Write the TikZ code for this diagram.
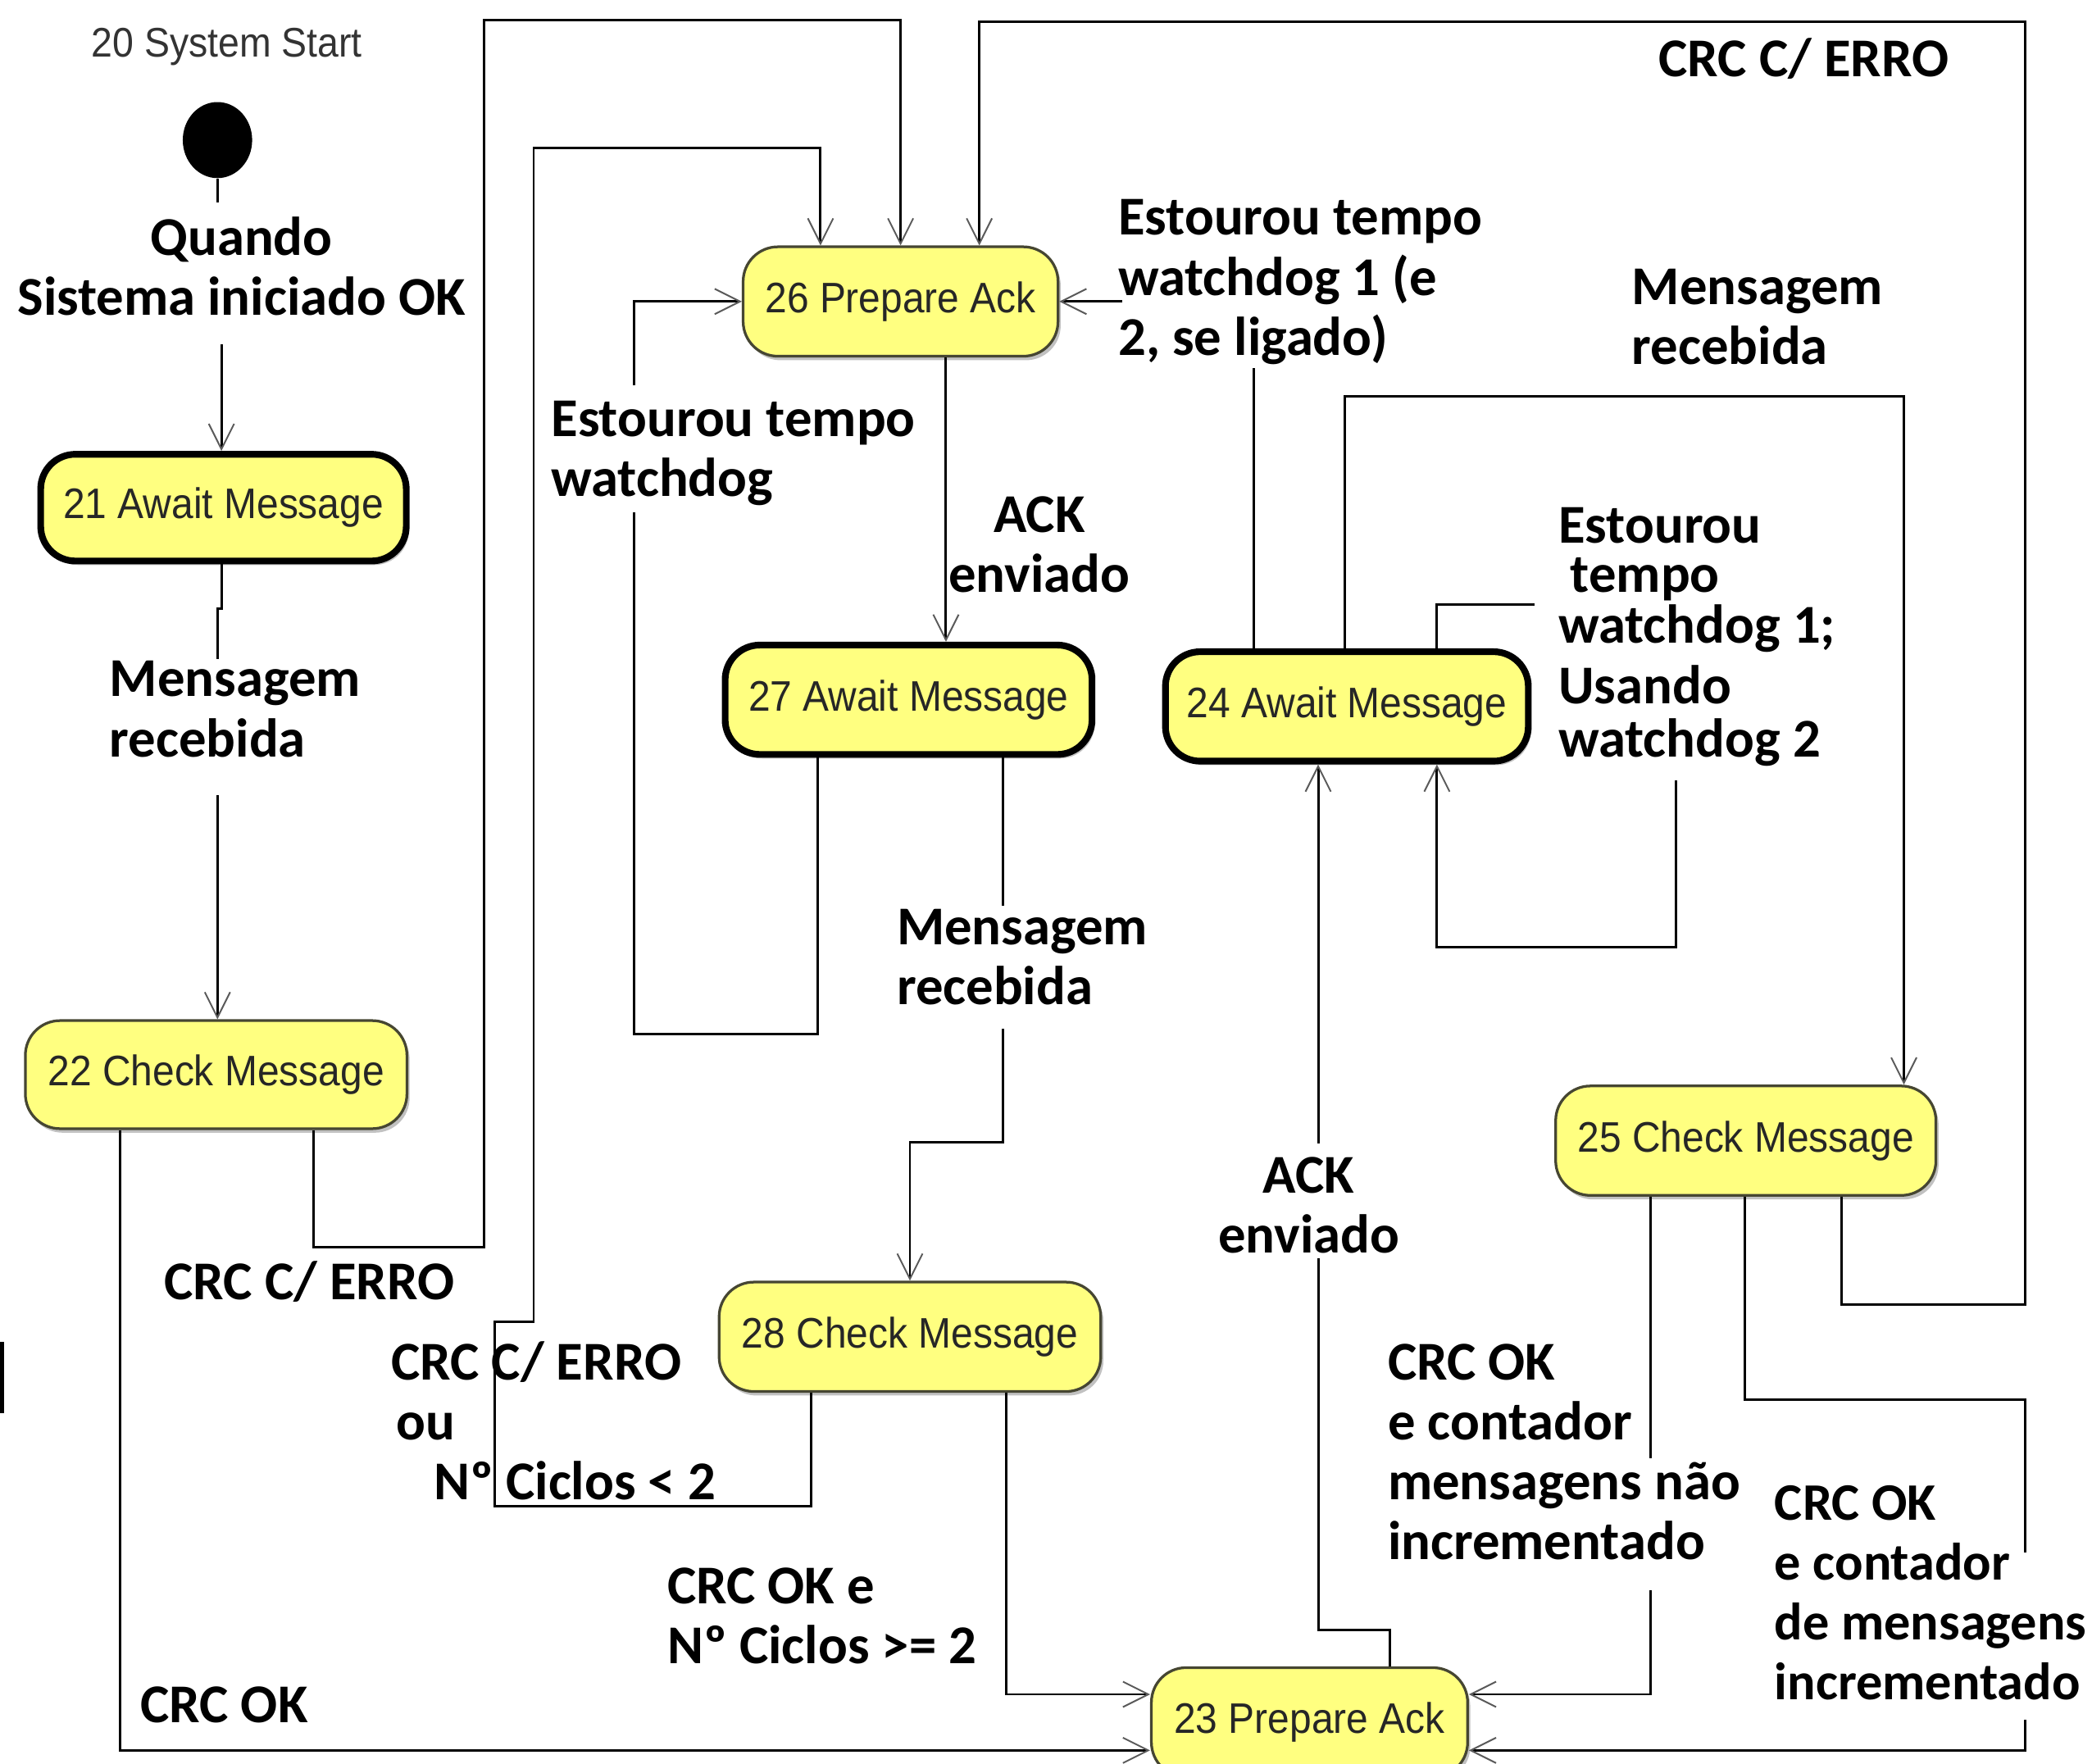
\documentclass[tikz,border=0pt]{standalone}
\usepackage{fontspec}
\newfontfamily\lblfam{Carlito}
\newfontfamily\nodefam{Liberation Sans}[FakeStretch=0.92]
\usetikzlibrary{arrows.meta,shadows,shapes.geometric}
\definecolor{nodefill}{RGB}{255,255,128}
\definecolor{nodeline}{RGB}{70,70,50}
\definecolor{tipgray}{RGB}{90,90,90}
\begin{document}
\begin{tikzpicture}[x=1pt,y=-1pt,
  stbox/.style={rectangle, rounded corners=26pt, fill=nodefill, draw=nodeline, line width=2pt,
    font=\nodefam\fontsize{32}{36}\selectfont, text=black!85, inner sep=0pt,
    drop shadow={shadow xshift=2pt,shadow yshift=-3pt,fill=black!30,opacity=0.8}},
  stboxk/.style={stbox, draw=black, line width=5pt},
  ln/.style={draw=black, line width=1.8pt},
  ar/.style={ln, -{Straight Barb[length=19pt,width=19pt,line width=1.2pt,color=tipgray]}},
  lbl/.style={font=\lblfam\bfseries\fontsize{41}{45}\selectfont, align=left, inner sep=0pt, anchor=north west, text=black},
  lblc/.style={lbl, align=center, anchor=north},
]
\fill[white] (0,0) rectangle (1568,1322);
\useasboundingbox (0,0) rectangle (1568,1322);

% title and start
\node[font=\nodefam\fontsize{31}{34}\selectfont, text=black!80, inner sep=0pt] (title) at (170,35) {20 System Start};
\node[fill=black, ellipse, minimum width=52pt, minimum height=57pt, inner sep=0pt] (start) at (163,105) {};

% states
\node[stbox,  minimum width=236pt, minimum height=82pt] (n26) at (675,226) {26 Prepare Ack};
\node[stboxk, minimum width=274pt, minimum height=80pt] (n21) at (167.5,380.5) {21 Await Message};
\node[stbox,  minimum width=286pt, minimum height=81pt] (n22) at (162,805.5) {22 Check Message};
\node[stboxk, minimum width=275pt, minimum height=82pt] (n27) at (681,524.5) {27 Await Message};
\node[stboxk, minimum width=272pt, minimum height=82pt] (n24) at (1009.5,529.5) {24 Await Message};
\node[stbox,  minimum width=285pt, minimum height=82pt] (n25) at (1308.5,855) {25 Check Message};
\node[stbox,  minimum width=286pt, minimum height=82pt] (n28) at (682,1002) {28 Check Message};
\node[stbox,  minimum width=237pt, minimum height=82pt] (n23) at (981.5,1291) {23 Prepare Ack};

% labels
\node[lblc] (lq) at (181,159.5) {\strut Quando\\\strut Sistema iniciado OK};
\node[lbl] (lm1) at (82,490.5) {\strut Mensagem\\\strut recebida};
\node[lbl] (lc1) at (123,942.5) {\strut CRC C/ ERRO};
\node[lbl] (lok1) at (105,1259.5) {\strut CRC OK};
\node[lbl] (lc2) at (293,1002.5) {\strut CRC C/ ERRO\\\strut\hspace*{4pt}ou\\\strut\hspace*{32pt}Nº Ciclos < 2};
\node[lbl] (lok2) at (500,1170.5) {\strut CRC OK e\\\strut Nº Ciclos >= 2};
\node[lbl] (lw1) at (413,295.5) {\strut Estourou tempo\\\strut watchdog};
\node[lblc] (lack1) at (779,367.5) {\strut ACK\\\strut enviado};
\node[lbl] (lm2) at (672,676.5) {\strut Mensagem\\\strut recebida};
\node[lbl] (lw2) at (838,144.5) {\strut Estourou tempo\\\strut watchdog 1 (e\\\strut 2, se ligado)};
\node[lbl] (lm3) at (1223,196.5) {\strut Mensagem\\\strut recebida};
\node[lbl] (lw3) at (1168,375.5) {\strut Estourou\\[-8pt]\strut\hspace*{9pt}tempo\\[-7pt]\strut watchdog 1;\\\strut Usando\\[-5pt]\strut watchdog 2};
\node[lbl] (lc3) at (1243,25.5) {\strut CRC C/ ERRO};
\node[lblc] (lack2) at (981,862.5) {\strut ACK\\\strut enviado};
\node[lbl] (lok3) at (1040,1002.5) {\strut CRC OK\\\strut e contador\\\strut mensagens não\\\strut incrementado};
\node[lbl, font=\lblfam\bfseries\fontsize{39.5}{45}\selectfont] (lok4) at (1330,1107.5) {\strut CRC OK\\\strut e contador\\\strut de mensagens\\\strut incrementado};

% free ends of connectors (at label gaps)
\coordinate (g1a) at (163,152);  \coordinate (g1b) at (166,258);
\coordinate (g2a) at (163,494);  \coordinate (g2b) at (163,596);
\coordinate (g8a) at (475,384);  \coordinate (g8b) at (475,289);
\coordinate (g9a) at (752,679);  \coordinate (g9b) at (752,771);
\coordinate (g10a) at (940,276); \coordinate (g10b) at (841,226);
\coordinate (g12a) at (1150,453); \coordinate (g12b) at (1256,585);
\coordinate (g13a) at (988,943); \coordinate (g13b) at (988,857);
\coordinate (g14a) at (1237,1093); \coordinate (g14b) at (1237,1192);
\coordinate (g15a) at (1518,1164); \coordinate (g15b) at (1518,1289);

% start -> 21
\draw[ln] (start.south) -- (g1a);
\draw[ar] (g1b) -- (g1b |- n21.north);
% 21 -> 22
\draw[ln] (n21.south -| 166,0) -- (166,456) -- (163,456) -- (g2a);
\draw[ar] (g2b) -- (g2b |- n22.north);
% 22 -> 26 (CRC C/ ERRO)
\draw[ar] (n22.south -| 235,0) |- (363,935) |- (675,15) -- (n26.north -| 675,0);
% 22 -> 23 (CRC OK)
\draw[ar] (n22.south -| 90,0) |- (n23.west |- 0,1312);
% 28 -> 26
\draw[ar] (n28.south -| 608,0) |- (371,1129) |- (400,991) |- (615,111) -- (n26.north -| 615,0);
% 28 -> 23
\draw[ar] (n28.south -| 754,0) |- (n23.west |- 0,1270);
% 26 -> 27
\draw[ar] (n26.south -| 709,0) -- (n27.north -| 709,0);
% 27 -> 26
\draw[ln] (n27.south -| 613,0) |- (475,775) -- (g8a);
\draw[ar] (g8b) |- (n26.west);
% 27 -> 28
\draw[ln] (n27.south -| 752,0) -- (g9a);
\draw[ar] (g9b) |- (682,856) -- (n28.north -| 682,0);
% 24 -> 26
\draw[ln] (n24.north -| 940,0) -- (g10a);
\draw[ar] (g10b) -- (n26.east);
% 24 -> 25
\draw[ar] (n24.north -| 1008,0) |- (1427,297) -- (n25.north -| 1427,0);
% 24 -> 24
\draw[ln] (n24.north -| 1077,0) |- (g12a);
\draw[ar] (g12b) |- (1077,710) -- (n24.south -| 1077,0);
% 23 -> 24
\draw[ln] (n23.north -| 1042,0) |- (988,1222) -- (g13a);
\draw[ar] (g13b) -- (n24.south -| 988,0);
% 25 -> 23 (nao incrementado)
\draw[ln] (n25.south -| 1237,0) -- (g14a);
\draw[ar] (g14b) |- (n23.east |- 0,1270);
% 25 -> 23 (incrementado)
\draw[ln] (n25.south -| 1308,0) |- (1518,1049) -- (g15a);
\draw[ar] (g15b) |- (n23.east |- 0,1312);
% 25 -> 26 (CRC C/ ERRO)
\draw[ar] (n25.south -| 1380,0) |- (1518,978) |- (734,16) -- (n26.north -| 734,0);

% fragment at left edge
\fill[black] (0,1006) rectangle (3,1059);
\end{tikzpicture}
\end{document}
